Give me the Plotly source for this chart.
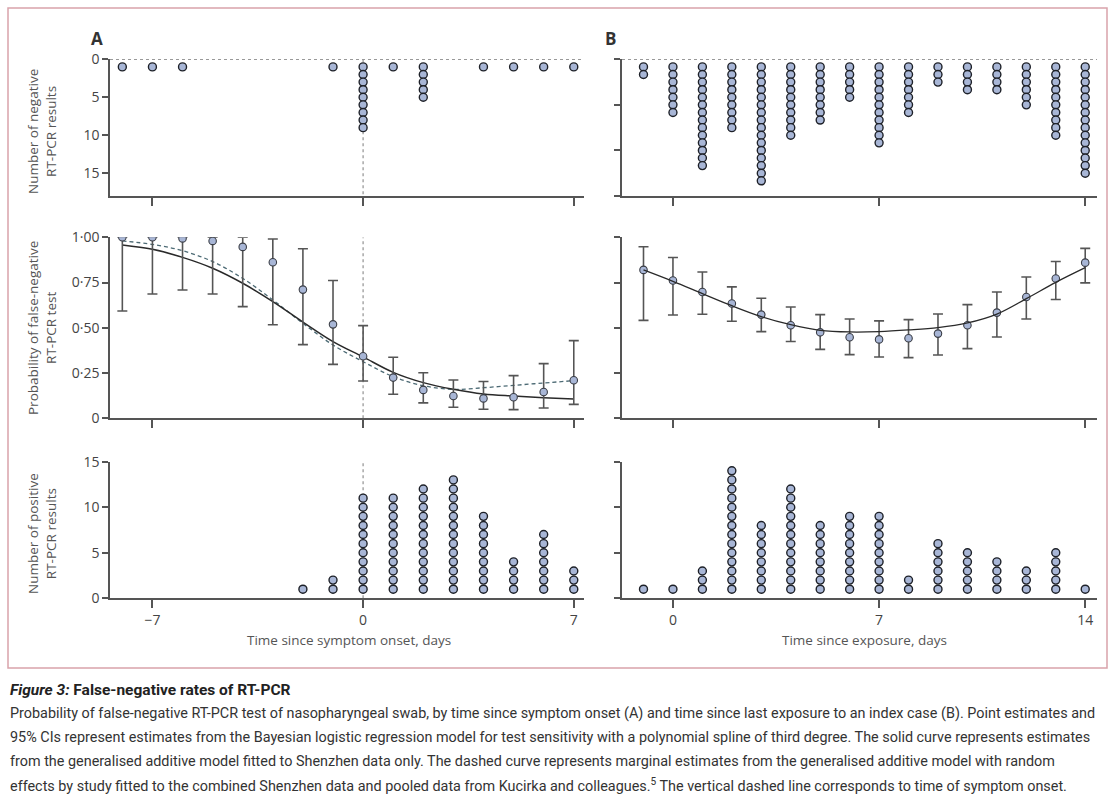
import plotly.graph_objects as go

# ---------------- data ----------------
days_A = list(range(-8, 8))
neg_A = [1, 1, 1, 0, 0, 0, 0, 1, 9, 1, 5, 0, 1, 1, 1, 1]
pos_A = [0, 0, 0, 0, 0, 0, 1, 2, 11, 11, 12, 13, 9, 4, 7, 3]
est_A = [1.00, 1.00, 0.994, 0.98, 0.947, 0.862, 0.711, 0.519, 0.343, 0.225, 0.157, 0.123, 0.110, 0.116, 0.145, 0.210]
lo_A = [0.593, 0.687, 0.709, 0.687, 0.617, 0.517, 0.407, 0.298, 0.206, 0.133, 0.085, 0.061, 0.050, 0.048, 0.057, 0.077]
hi_A = [1.00, 1.00, 1.00, 1.00, 1.00, 0.991, 0.937, 0.761, 0.512, 0.337, 0.252, 0.212, 0.203, 0.236, 0.302, 0.429]
solid_A = [0.958, 0.934, 0.889, 0.829, 0.746, 0.645, 0.532, 0.424, 0.339, 0.254, 0.197, 0.160, 0.134, 0.123, 0.114, 0.107]
dashed_A = [0.980, 0.961, 0.926, 0.866, 0.773, 0.654, 0.525, 0.405, 0.313, 0.230, 0.180, 0.160, 0.169, 0.182, 0.195, 0.208]

days_B = list(range(-1, 15))
neg_B = [2, 7, 14, 9, 16, 10, 8, 5, 11, 7, 3, 4, 4, 6, 10, 15]
pos_B = [1, 1, 3, 14, 8, 12, 8, 9, 9, 2, 6, 5, 4, 3, 5, 1]
est_B = [0.820, 0.761, 0.698, 0.634, 0.573, 0.514, 0.475, 0.448, 0.436, 0.442, 0.468, 0.514, 0.584, 0.670, 0.772, 0.860]
lo_B = [0.541, 0.571, 0.575, 0.536, 0.479, 0.424, 0.381, 0.352, 0.339, 0.335, 0.350, 0.385, 0.449, 0.549, 0.656, 0.748]
hi_B = [0.948, 0.888, 0.808, 0.726, 0.663, 0.615, 0.573, 0.549, 0.538, 0.545, 0.576, 0.628, 0.698, 0.781, 0.866, 0.939]
solid_B = [0.820, 0.757, 0.689, 0.622, 0.562, 0.517, 0.486, 0.477, 0.479, 0.488, 0.501, 0.527, 0.576, 0.661, 0.751, 0.832]

xticks_A = [-7, 0, 7]
xticklabels_A = ["\u22127", "0", "7"]
xticks_B = [0, 7, 14]
xticklabels_B = ["0", "7", "14"]
count_ticks = [0, 5, 10, 15]
prob_ticks = [0, 0.25, 0.5, 0.75, 1.0]
prob_labels = ["0", "0\u00b725", "0\u00b750", "0\u00b775", "1\u00b700"]

caption_title = "<i>Figure 3:</i> False-negative rates of RT-PCR"
caption_lines = [
    "Probability of false-negative RT-PCR test of nasopharyngeal swab, by time since symptom onset (A) and time since last exposure to an index case (B). Point estimates and",
    "95% CIs represent estimates from the Bayesian logistic regression model for test sensitivity with a polynomial spline of third degree. The solid curve represents estimates",
    "from the generalised additive model fitted to Shenzhen data only. The dashed curve represents marginal estimates from the generalised additive model with random",
    "effects by study fitted to the combined Shenzhen data and pooled data from Kucirka and colleagues.<sup>5</sup> The vertical dashed line corresponds to time of symptom onset.",
]

# ---------------- layout helpers ----------------
W, H = 1115, 801
def fx(x):
    return x / W
def fy(y):
    return 1 - y / H

A_x = (110, 584)
B_x = (622, 1097)
top_y = (59.3, 196)
mid_y = (237.3, 418.3)
bot_y = (461.7, 598.3)

DOT_FILL = "#a8b6d6"
DOT_LINE = "#1e2128"
AX = "#555555"
TXT = "#444444"
FONT = "Open Sans"

def dots(days, counts):
    xs, ys = [], []
    for d, c in zip(days, counts):
        for k in range(1, c + 1):
            xs.append(d)
            ys.append(k)
    return xs, ys

fig = go.Figure()

def add_dots(days, counts, xa, ya):
    xs, ys = dots(days, counts)
    fig.add_trace(go.Scatter(x=xs, y=ys, mode="markers", xaxis=xa, yaxis=ya,
                             marker=dict(size=8, color=DOT_FILL, line=dict(color=DOT_LINE, width=1.4)),
                             showlegend=False, hoverinfo="skip"))

add_dots(days_A, neg_A, "x", "y")
add_dots(days_B, neg_B, "x2", "y2")
add_dots(days_A, pos_A, "x5", "y5")
add_dots(days_B, pos_B, "x6", "y6")

# middle A
fig.add_trace(go.Scatter(x=days_A, y=dashed_A, mode="lines", xaxis="x3", yaxis="y3",
                         line=dict(color="#4c6a74", width=1.3, dash="4px,3px", shape="spline"),
                         showlegend=False, hoverinfo="skip"))
fig.add_trace(go.Scatter(x=days_A, y=solid_A, mode="lines", xaxis="x3", yaxis="y3",
                         line=dict(color="#2a2a2a", width=1.5, shape="spline"),
                         showlegend=False, hoverinfo="skip"))
fig.add_trace(go.Scatter(x=days_A, y=est_A, mode="markers", xaxis="x3", yaxis="y3",
                         error_y=dict(type="data", symmetric=False,
                                      array=[h - e for h, e in zip(hi_A, est_A)],
                                      arrayminus=[e - l for e, l in zip(est_A, lo_A)],
                                      color="#555555", thickness=1.6, width=5),
                         marker=dict(size=7.5, color=DOT_FILL, line=dict(color="#3a3d45", width=1.1)),
                         showlegend=False, hoverinfo="skip"))
# middle B
fig.add_trace(go.Scatter(x=days_B, y=est_B, mode="markers", xaxis="x4", yaxis="y4",
                         error_y=dict(type="data", symmetric=False,
                                      array=[h - e for h, e in zip(hi_B, est_B)],
                                      arrayminus=[e - l for e, l in zip(est_B, lo_B)],
                                      color="#555555", thickness=1.6, width=5),
                         marker=dict(size=7.5, color=DOT_FILL, line=dict(color="#3a3d45", width=1.1)),
                         showlegend=False, hoverinfo="skip"))
fig.add_trace(go.Scatter(x=days_B, y=solid_B, mode="lines", xaxis="x4", yaxis="y4",
                         line=dict(color="#2a2a2a", width=1.3, shape="spline"),
                         showlegend=False, hoverinfo="skip"))

tickfont = dict(family=FONT, size=14, color=TXT)

def xaxis(dom, rng, tv, tt, show_labels, anchor):
    return dict(domain=[fx(dom[0]), fx(dom[1])], range=rng, anchor=anchor,
                showline=True, linecolor=AX, linewidth=1.5, showgrid=False, zeroline=False,
                ticks="outside", ticklen=8, tickwidth=1.5, tickcolor=AX,
                tickvals=tv, ticktext=tt, showticklabels=show_labels,
                tickfont=tickfont, fixedrange=True, automargin=False)

def yaxis(dom, rng, tv, tt, anchor, show_labels=True):
    return dict(domain=[fy(dom[1]), fy(dom[0])], range=rng, anchor=anchor,
                showline=True, linecolor=AX, linewidth=1.5, showgrid=False, zeroline=False,
                ticks="outside", ticklen=6, tickwidth=1.5, tickcolor=AX,
                tickvals=tv, ticktext=tt if tt is not None else [str(v) for v in tv],
                showticklabels=show_labels,
                tickfont=tickfont, fixedrange=True, automargin=False)

rA = [-8.41, 7.34]
rB = [-1.73, 14.4]

layout = dict(
    width=W, height=H, margin=dict(l=0, r=0, t=0, b=0, pad=0),
    paper_bgcolor="white", plot_bgcolor="white", showlegend=False,
    xaxis=xaxis(A_x, rA, xticks_A, xticklabels_A, False, "y"),
    xaxis2=xaxis(B_x, rB, xticks_B, xticklabels_B, False, "y2"),
    xaxis3=xaxis(A_x, rA, xticks_A, xticklabels_A, False, "y3"),
    xaxis4=xaxis(B_x, rB, xticks_B, xticklabels_B, False, "y4"),
    xaxis5=xaxis(A_x, rA, xticks_A, xticklabels_A, True, "y5"),
    xaxis6=xaxis(B_x, rB, xticks_B, xticklabels_B, True, "y6"),
    yaxis=yaxis(top_y, [18, 0], count_ticks, [str(v) for v in count_ticks], "x"),
    yaxis2=yaxis(top_y, [18, 0], [0, 6, 12, 18], None, "x2", False),
    yaxis3=yaxis(mid_y, [0, 1.0], prob_ticks, prob_labels, "x3"),
    yaxis4=yaxis(mid_y, [0, 1.0], prob_ticks, None, "x4", False),
    yaxis5=yaxis(bot_y, [0, 15], count_ticks, [str(v) for v in count_ticks], "x5"),
    yaxis6=yaxis(bot_y, [0, 15], count_ticks, None, "x6", False),
)
fig.update_layout(**layout)

shapes = []
for xa, ya, rng in (("x", "y", rA), ("x2", "y2", rB)):
    shapes.append(dict(type="line", xref=xa, yref=ya, x0=rng[0], x1=rng[1], y0=0, y1=0,
                       line=dict(color="#777777", width=1.2, dash="3px,3px"), layer="below"))
for xa, ya, y0, y1 in (("x", "y", 0, 18), ("x3", "y3", 0, 1.0), ("x5", "y5", 0, 15)):
    shapes.append(dict(type="line", xref=xa, yref=ya, x0=0, x1=0, y0=y0, y1=y1,
                       line=dict(color="#9a9a9a", width=1.3, dash="3px,3px"), layer="below"))
shapes.append(dict(type="rect", xref="paper", yref="paper", x0=fx(8), x1=fx(1107), y0=fy(668), y1=fy(8),
                   line=dict(color="#d9a3ab", width=1.5), fillcolor="rgba(0,0,0,0)", layer="below"))
fig.update_layout(shapes=shapes)

ann = []
ann.append(dict(text="<b>A</b>", x=fx(89), y=fy(38), xref="paper", yref="paper", showarrow=False,
                xanchor="left", yanchor="middle", font=dict(family=FONT, size=17, color="#333333")))
ann.append(dict(text="<b>B</b>", x=fx(603), y=fy(38), xref="paper", yref="paper", showarrow=False,
                xanchor="left", yanchor="middle", font=dict(family=FONT, size=17, color="#333333")))
ytitles = [("Number of negative<br>RT-PCR results", 132),
           ("Probability of false-negative<br>RT-PCR test", 328),
           ("Number of positive<br>RT-PCR results", 534)]
for t, yc in ytitles:
    ann.append(dict(text=t, x=fx(42), y=fy(yc), xref="paper", yref="paper", showarrow=False,
                    textangle=-90, xanchor="center", yanchor="middle",
                    font=dict(family=FONT, size=13.5, color="#555555")))
ann.append(dict(text="Time since symptom onset, days", x=fx(349), y=fy(640), xref="paper", yref="paper",
                showarrow=False, xanchor="center", yanchor="middle",
                font=dict(family=FONT, size=13.5, color="#555555")))
ann.append(dict(text="Time since exposure, days", x=fx(864), y=fy(640), xref="paper", yref="paper",
                showarrow=False, xanchor="center", yanchor="middle",
                font=dict(family=FONT, size=13.5, color="#555555")))

CAP = "Roboto"
ann.append(dict(text="<b>" + caption_title + "</b>", x=fx(8), y=fy(690), xref="paper", yref="paper",
                showarrow=False, xanchor="left", yanchor="middle",
                font=dict(family=CAP, size=15.5, color="#222222")))
for i, line in enumerate(caption_lines):
    ann.append(dict(text=line, x=fx(8), y=fy(713 + 24 * i), xref="paper", yref="paper",
                    showarrow=False, xanchor="left", yanchor="middle",
                    font=dict(family=CAP, size=14.4, color="#333333")))
fig.update_layout(annotations=ann)

fig.write_html("out.html", config={"displayModeBar": False},
               post_script="document.body.style.margin='0';document.body.style.overflow='hidden';")
